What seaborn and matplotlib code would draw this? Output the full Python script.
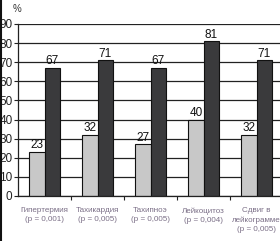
import matplotlib
matplotlib.use("Agg")
import matplotlib.pyplot as plt
import seaborn as sns
import pandas as pd
from matplotlib.lines import Line2D

categories = ["Гипертермия\n(p = 0,001)", "Тахикардия\n(p = 0,005)", "Тахипноэ\n(p = 0,005)",
              "Лейкоцитоз\n(p = 0,004)", "Сдвиг в\nлейкограмме\n(p = 0,005)"]
series_names = ["Группа 1", "Группа 2"]
values_light = [23, 32, 27, 40, 32]
values_dark = [67, 71, 67, 81, 71]
yticks = [0, 10, 20, 30, 40, 50, 60, 70, 80, 90]

df = pd.DataFrame({
    "cat": categories * 2,
    "series": [series_names[0]] * len(categories) + [series_names[1]] * len(categories),
    "val": values_light + values_dark,
})

sns.set_theme(style="white")
plt.rcParams['font.family'] = ['Liberation Sans Narrow', 'Liberation Sans', 'DejaVu Sans']

fig = plt.figure(figsize=(2.8, 2.41), dpi=100)
ax = fig.add_axes([18 / 280, 45 / 241, 265 / 280, 172 / 241])

sns.barplot(data=df, x="cat", y="val", hue="series", order=categories,
            hue_order=series_names, palette=["#c8c8c8", "#3a3a3c"],
            width=0.58, edgecolor="#111111", linewidth=0.8, ax=ax, legend=False)

for cont in ax.containers:
    ax.bar_label(cont, padding=0.5, fontsize=8.5, color="#111111")

ax.set_ylim(0, 90)
ax.set_xlim(-0.5, len(categories) - 0.5)
ax.set_yticks(yticks)
ax.set_yticklabels([str(v) for v in yticks], fontsize=8.5, color="#222222")
ax.yaxis.grid(True, color="#222222", linewidth=0.9)
ax.set_axisbelow(True)
ax.tick_params(axis="y", length=3, width=0.8, pad=1, left=True, color="#222222")

ax.set_xticks([i + 0.5 for i in range(len(categories) - 1)])
ax.set_xticklabels([])
ax.set_xticks(range(len(categories)), minor=True)
ax.set_xticklabels(categories, minor=True, fontsize=5.8, color="#7a6e86", linespacing=1.45)
ax.tick_params(axis="x", which="major", length=3, width=0.8, bottom=True, color="#222222")
ax.tick_params(axis="x", which="minor", length=0, pad=8)

for s in ["top", "right"]:
    ax.spines[s].set_visible(False)
for s in ["left", "bottom"]:
    ax.spines[s].set_color("#222222")
    ax.spines[s].set_linewidth(0.9)

ax.set_xlabel("")
ax.set_ylabel("")
fig.text(17 / 280, 1 - 9 / 241, "%", fontsize=7, color="#333333", ha="center", va="center")
fig.add_artist(Line2D([0.5 / 280, 0.5 / 280], [0, 1], transform=fig.transFigure,
                      color="#111111", linewidth=1.5))

fig.savefig("out.png", dpi=100)
